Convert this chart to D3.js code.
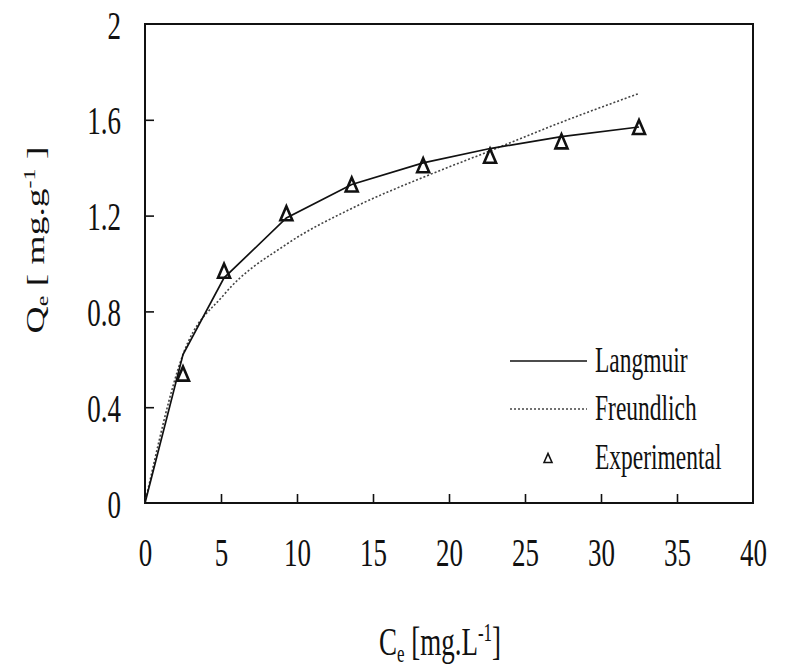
<!DOCTYPE html>
<html>
<head>
<meta charset="utf-8">
<script src="https://cdnjs.cloudflare.com/ajax/libs/d3/7.8.5/d3.min.js"></script>
<style>
body { margin: 0; background: #fff; }
svg { display: block; font-family: "Liberation Serif", "Times New Roman", serif; fill: #111; }
</style>
</head>
<body>
<svg id="chart" width="785" height="668"></svg>
<script>
// tick values
const X_TICKS = [0, 5, 10, 15, 20, 25, 30, 35, 40];
const Y_TICKS = [0, 0.4, 0.8, 1.2, 1.6, 2];

// experimental points
const CE_EXP = [2.5, 5.2, 9.3, 13.6, 18.3, 22.7, 27.4, 32.5];
const QE_EXP = [0.54, 0.97, 1.21, 1.33, 1.41, 1.45, 1.51, 1.57];

// model curves
const CE_FIT = [0, 2.5, 5.2, 9.3, 13.6, 18.3, 22.7, 27.4, 32.5];
const QE_LANGMUIR = [0, 0.62, 0.94, 1.19, 1.33, 1.42, 1.48, 1.53, 1.57];
const QE_FREUNDLICH = [0, 0.62, 0.87, 1.08, 1.23, 1.36, 1.47, 1.59, 1.71];

const LEGEND_LABELS = ["Langmuir", "Freundlich", "Experimental"];

const MARGIN = { top: 24, right: 32, bottom: 165, left: 145 };
const W = 785, H = 668;
const PW = W - MARGIN.left - MARGIN.right;
const PH = H - MARGIN.top - MARGIN.bottom;
const STRETCH = 1.5;   // text in the picture is taller than it is wide

const svg = d3.select("#chart");
const g = svg.append("g").attr("transform", `translate(${MARGIN.left},${MARGIN.top})`);

const x = d3.scaleLinear().domain([0, 40]).range([0, PW]);
const y = d3.scaleLinear().domain([0, 2]).range([PH, 0]);

// axes, ticks pointing inward
const xAxis = g.append("g").attr("transform", `translate(0,${PH})`)
  .call(d3.axisBottom(x).tickValues(X_TICKS).tickSizeInner(-9).tickSizeOuter(0).tickFormat(d3.format("d")));
const yAxis = g.append("g")
  .call(d3.axisLeft(y).tickValues(Y_TICKS).tickSizeInner(-9).tickSizeOuter(0).tickFormat(d => d));

[xAxis, yAxis].forEach(a => {
  a.select(".domain").remove();
  a.selectAll("line").attr("stroke", "#111").attr("stroke-width", 1.6);
  a.selectAll("text").attr("font-family", "Liberation Serif, serif").attr("font-size", 27).attr("fill", "#111");
});
xAxis.selectAll("line").filter(d => d === 0 || d === 40).remove();
yAxis.selectAll("line").filter(d => d === 0 || d === 2).remove();

xAxis.selectAll("text").attr("y", 0).attr("dy", 0)
  .attr("transform", `translate(0,63) scale(1,${STRETCH})`);
yAxis.selectAll("text").attr("x", 0).attr("dy", 0)
  .attr("transform", `translate(-24,14) scale(1,${STRETCH})`);

// frame
g.append("rect").attr("width", PW).attr("height", PH)
  .attr("fill", "none").attr("stroke", "#111").attr("stroke-width", 2);

const fitData = CE_FIT.map((c, i) => ({ c, l: QE_LANGMUIR[i], f: QE_FREUNDLICH[i] }));

g.append("path").datum(fitData)
  .attr("fill", "none").attr("stroke", "#444").attr("stroke-width", 1.6)
  .attr("stroke-dasharray", "2,2")
  .attr("d", d3.line().x(d => x(d.c)).y(d => y(d.f)).curve(d3.curveMonotoneX));

g.append("path").datum(fitData)
  .attr("fill", "none").attr("stroke", "#111").attr("stroke-width", 1.7)
  .attr("d", d3.line().x(d => x(d.c)).y(d => y(d.l)));

function tri(cx, cy, w, h) {
  return `M${cx - w / 2},${cy + h / 2}L${cx},${cy - h / 2}L${cx + w / 2},${cy + h / 2}Z`;
}

g.selectAll(".pt").data(CE_EXP.map((c, i) => ({ c, q: QE_EXP[i] })))
  .enter().append("path").attr("class", "pt")
  .attr("d", d => tri(x(d.c), y(d.q), 12, 14))
  .attr("fill", "none").attr("stroke", "#111").attr("stroke-width", 2.6)
  .attr("stroke-linejoin", "miter");

// legend
const legend = svg.append("g");
const LEG_X = 510, LEG_Y = [361, 409, 458];
legend.append("line").attr("x1", LEG_X).attr("x2", LEG_X + 77).attr("y1", LEG_Y[0]).attr("y2", LEG_Y[0])
  .attr("stroke", "#111").attr("stroke-width", 1.6);
legend.append("line").attr("x1", LEG_X).attr("x2", LEG_X + 77).attr("y1", LEG_Y[1]).attr("y2", LEG_Y[1])
  .attr("stroke", "#444").attr("stroke-width", 1.4).attr("stroke-dasharray", "2,2");
legend.append("path").attr("d", tri(LEG_X + 38, LEG_Y[2], 8, 9))
  .attr("fill", "none").attr("stroke", "#111").attr("stroke-width", 1.6);
LEGEND_LABELS.forEach((t, i) => {
  legend.append("text").attr("transform", `translate(595,${LEG_Y[i] + 11}) scale(1,${STRETCH})`)
    .attr("font-size", 23.5).text(t);
});

// axis titles
const xt = svg.append("text").attr("transform", `translate(440,655) scale(1,${STRETCH})`)
  .attr("text-anchor", "middle").attr("font-size", 27);
xt.append("tspan").text("C");
xt.append("tspan").attr("font-size", 17).attr("baseline-shift", "-25%").text("e");
xt.append("tspan").text(" [mg.L");
xt.append("tspan").attr("font-size", 17).attr("baseline-shift", "55%").text("-1");
xt.append("tspan").text("]");

const yt = svg.append("text").attr("transform", `translate(44,240) rotate(-90) scale(${STRETCH},1)`)
  .attr("text-anchor", "middle").attr("font-size", 25);
yt.append("tspan").text("Q");
yt.append("tspan").attr("font-size", 16).attr("baseline-shift", "-25%").text("e");
yt.append("tspan").text(" [ mg.g");
yt.append("tspan").attr("font-size", 16).attr("baseline-shift", "55%").text("-1");
yt.append("tspan").text(" ]");
</script>
</body>
</html>
